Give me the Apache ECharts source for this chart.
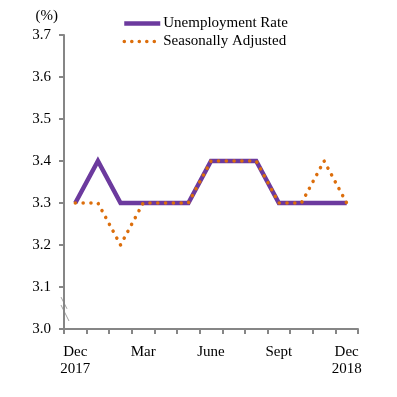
<!DOCTYPE html>
<html>
<head>
<meta charset="utf-8">
<script src="https://cdn.jsdelivr.net/npm/echarts@6/dist/echarts.min.js"></script>
<style>
  html, body { margin: 0; padding: 0; background: #fff; }
  #main { width: 397px; height: 397px; }
</style>
</head>
<body>
<div id="main"></div>
<script>
// months Dec 2017 .. Dec 2018
var months = ['Dec 2017', 'Jan', 'Feb', 'Mar', 'Apr', 'May', 'June', 'Jul', 'Aug', 'Sept', 'Oct', 'Nov', 'Dec 2018'];
var tickLabels = ['Dec\n2017', '', '', 'Mar', '', '', 'June', '', '', 'Sept', '', '', 'Dec\n2018'];
var unemploymentRate = [3.3, 3.4, 3.3, 3.3, 3.3, 3.3, 3.4, 3.4, 3.4, 3.3, 3.3, 3.3, 3.3];
var seasonallyAdjusted = [3.3, 3.3, 3.2, 3.3, 3.3, 3.3, 3.4, 3.4, 3.4, 3.3, 3.3, 3.4, 3.3];

var chartDom = document.getElementById('main');
var myChart = echarts.init(chartDom);
var font = '"Liberation Serif", "Times New Roman", serif';
var axisGray = '#868686';
var purple = '#6C3A9E';
var orange = '#DC6E0C';
var option;
option = {
    animation: false,
    textStyle: { fontFamily: font },
    legend: {
        orient: 'vertical',
        left: 117,
        top: 11,
        padding: 5,
        itemWidth: 36,
        itemHeight: 14,
        itemGap: 3,
        itemStyle: { opacity: 0 },
        textStyle: {
            fontFamily: font,
            fontSize: 15,
            color: '#000',
            padding: [0, 0, 0, -2]
        },
        data: [
            { name: 'Unemployment Rate', lineStyle: { color: purple, width: 4.5 } },
            { name: 'Seasonally Adjusted', lineStyle: { color: orange, width: 3.5, type: [0.1, 7.4], cap: 'round' } }
        ]
    },
    grid: {
        left: 64,
        right: 39,
        top: 35,
        bottom: 68
    },
    xAxis: {
        type: 'category',
        data: months,
        boundaryGap: true,
        axisLine: {
            lineStyle: { color: axisGray, width: 2 }
        },
        axisTick: {
            show: true,
            interval: 0,
            length: 5,
            lineStyle: { color: axisGray, width: 2 }
        },
        axisLabel: {
            interval: 0,
            margin: 15,
            color: '#000',
            fontFamily: font,
            fontSize: 15,
            lineHeight: 17,
            formatter: function (v, i) { return tickLabels[i]; }
        },
        splitLine: { show: false }
    },
    yAxis: {
        type: 'value',
        min: 3.0,
        max: 3.7,
        interval: 0.1,
        name: '(%)',
        nameLocation: 'end',
        nameGap: 11,
        nameTextStyle: {
            fontFamily: font,
            fontSize: 15,
            color: '#000',
            align: 'right',
            padding: [0, 6, 0, 0]
        },
        axisLine: {
            show: true,
            lineStyle: { color: axisGray, width: 2 }
        },
        axisTick: {
            show: true,
            length: 5,
            lineStyle: { color: axisGray, width: 2 }
        },
        axisLabel: {
            margin: 13,
            color: '#000',
            fontFamily: font,
            fontSize: 15,
            formatter: function (v) { return v.toFixed(1); }
        },
        splitLine: { show: false }
    },
    series: [
        {
            name: 'Unemployment Rate',
            type: 'line',
            data: unemploymentRate,
            symbol: 'none',
            lineStyle: {
                color: purple,
                width: 4.5,
                join: 'miter'
            },
            itemStyle: { color: purple }
        },
        {
            name: 'Seasonally Adjusted',
            type: 'line',
            data: seasonallyAdjusted,
            symbol: 'none',
            z: 3,
            lineStyle: {
                color: orange,
                width: 3.5,
                type: [0.1, 7.7],
                cap: 'round'
            },
            itemStyle: { color: orange }
        }]
};
option && myChart.setOption(option);

// axis break marks between 3.0 and 3.1
var yA1 = myChart.convertToPixel({ yAxisIndex: 0 }, 3.076);
var yA2 = myChart.convertToPixel({ yAxisIndex: 0 }, 3.048);
var yB1 = myChart.convertToPixel({ yAxisIndex: 0 }, 3.057);
var yB2 = myChart.convertToPixel({ yAxisIndex: 0 }, 3.019);
var x0 = myChart.convertToPixel({ xAxisIndex: 0 }, 0) - 11.3;
myChart.setOption({
    graphic: [
        { type: 'line', shape: { x1: x0 - 3, y1: yA1, x2: x0 + 3, y2: yA2 }, style: { stroke: '#a0a0a0', lineWidth: 1 } },
        { type: 'line', shape: { x1: x0 - 3, y1: yB1, x2: x0 + 5, y2: yB2 }, style: { stroke: '#a0a0a0', lineWidth: 1 } }
    ]
});

window.addEventListener('resize', () => {
    myChart.resize();
})
</script>
</body>
</html>
